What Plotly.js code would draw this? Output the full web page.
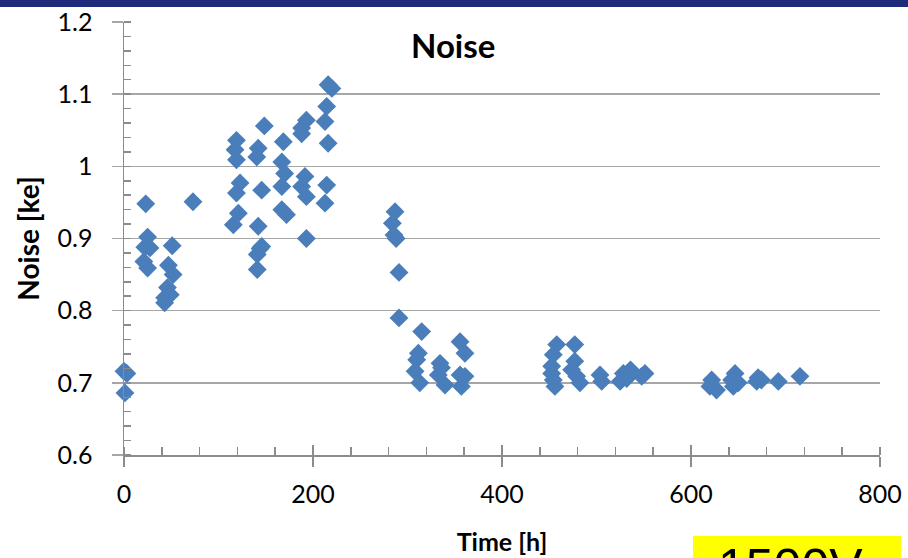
<!DOCTYPE html>
<html>
<head>
<meta charset="utf-8">
<script src="https://cdn.plot.ly/plotly-3.0.1.min.js"></script>
<style>
html,body{margin:0;padding:0;background:#fff;}
#chart{width:908px;height:558px;}
</style>
</head>
<body>
<div id="chart"></div>
<script>
// Time [h]
var timeH = [
  0, 3, 1,
  23, 73, 25, 22, 27.5, 51, 21, 25, 47, 52, 46, 49, 43, 43,
  216, 220, 214.5, 212.7, 216, 193, 188, 188, 148.5, 168.6, 119, 117.5, 119, 142, 140.5,
  167, 170, 167, 191.5, 188, 193, 214.5, 212.7, 122.8, 119, 145.7, 167, 172, 121, 115.7,
  142, 193, 145.7, 141, 141, 144,
  286.8, 284, 285.7, 288, 291, 291, 315, 311.5, 309.7, 308, 313, 334.4, 336, 332.6, 339.7,
  355.6, 360.8, 355.6, 360.8, 357,
  457.9, 477, 454.3, 477, 452.6, 452.6, 473.7, 479, 454.3, 456, 482.5, 503.7, 505.5,
  528.4, 525, 551.3, 547.8, 532, 536,
  621.9, 620, 627, 646.6, 643, 644.8, 650, 671, 669.5, 674.5, 692.4, 715.3
];
// Noise [ke]
var noiseKe = [
  0.716, 0.713, 0.686,
  0.948, 0.951, 0.902, 0.888, 0.887, 0.890, 0.868, 0.859, 0.863, 0.850, 0.832, 0.822, 0.818, 0.811,
  1.113, 1.108, 1.083, 1.062, 1.032, 1.064, 1.053, 1.045, 1.056, 1.034, 1.036, 1.023, 1.009, 1.025, 1.013,
  1.006, 0.990, 0.972, 0.986, 0.972, 0.958, 0.974, 0.949, 0.977, 0.963, 0.967, 0.940, 0.933, 0.935, 0.919,
  0.917, 0.900, 0.889, 0.878, 0.857, 0.886,
  0.937, 0.921, 0.905, 0.900, 0.853, 0.790, 0.771, 0.741, 0.732, 0.716, 0.700, 0.727, 0.721, 0.711, 0.697,
  0.757, 0.741, 0.711, 0.709, 0.695,
  0.753, 0.753, 0.739, 0.730, 0.723, 0.713, 0.718, 0.709, 0.704, 0.695, 0.700, 0.711, 0.702,
  0.713, 0.702, 0.713, 0.709, 0.706, 0.718,
  0.704, 0.695, 0.690, 0.713, 0.704, 0.695, 0.700, 0.707, 0.702, 0.704, 0.702, 0.709
];
var xTickVals = [0, 200, 400, 600, 800];
var xTickText = ['0', '200', '400', '600', '800'];
var yTickVals = [0.6, 0.7, 0.8, 0.9, 1.0, 1.1, 1.2];
var yTickText = ['0.6', '0.7', '0.8', '0.9', '1', '1.1', '1.2'];

var axisGray = '#8C8C8C';
var gridGray = '#A6A6A6';

var traces = [
  {
    type: 'scatter', mode: 'markers', x: timeH, y: noiseKe, cliponaxis: false,
    marker: {symbol: 'diamond', size: 14.5, color: '#4A7EBB', line: {width: 0}},
    showlegend: false, hoverinfo: 'x+y'
  },
  {
    type: 'scatter', mode: 'markers', x: [], y: [], xaxis: 'x2', yaxis: 'y',
    showlegend: false, hoverinfo: 'skip'
  }
];

var layout = {
  width: 908, height: 558,
  margin: {l: 124, r: 28, t: 22, b: 103},
  paper_bgcolor: '#ffffff', plot_bgcolor: '#ffffff',
  font: {family: 'Lato, Carlito, sans-serif', color: '#000000'},
  showlegend: false,
  xaxis: {
    range: [0, 800], tickvals: xTickVals, ticktext: xTickText,
    showgrid: false, zeroline: false,
    showline: true, linecolor: axisGray, linewidth: 1.5,
    ticks: 'outside', ticklen: 10, tickwidth: 1.5, tickcolor: axisGray,
    tickfont: {size: 25, family: 'Lato, Carlito, sans-serif', color: '#000'},
    ticklabelstandoff: 6,
    minor: {dtick: 40, tick0: 0, ticks: 'inside', ticklen: 8, tickwidth: 1.5, tickcolor: axisGray, showgrid: false},
    title: {text: '<b>Time [h]</b>', font: {size: 25, family: 'Lato, Carlito, sans-serif', color: '#000'}, standoff: 27},
    fixedrange: true
  },
  xaxis2: {
    overlaying: 'x', anchor: 'y', matches: 'x',
    range: [0, 800], tickvals: xTickVals, showticklabels: false,
    showgrid: false, zeroline: false, showline: false,
    ticks: 'inside', ticklen: 10, tickwidth: 1.5, tickcolor: axisGray
  },
  yaxis: {
    range: [0.6, 1.2], tickvals: yTickVals, ticktext: yTickText,
    showgrid: true, gridcolor: gridGray, gridwidth: 1.5, zeroline: false,
    showline: true, linecolor: axisGray, linewidth: 1.5,
    ticks: 'outside', ticklen: 11, tickwidth: 1.5, tickcolor: gridGray,
    tickfont: {size: 25, family: 'Lato, Carlito, sans-serif', color: '#000'},
    ticklabelstandoff: 14,
    minor: {dtick: 0.02, tick0: 0.6, ticks: 'inside', ticklen: 7, tickwidth: 1.5, tickcolor: axisGray, showgrid: false},
    title: {text: '<b>Noise [ke]</b>', font: {size: 28, family: 'Lato, Carlito, sans-serif', color: '#000'}, standoff: 10},
    fixedrange: true
  },
  annotations: [
    {
      xref: 'paper', yref: 'paper', x: 0.435, y: 0.947, xanchor: 'center', yanchor: 'middle',
      text: '<b>Noise</b>', showarrow: false,
      font: {size: 33, family: 'Lato, Carlito, sans-serif', color: '#000'}
    },
    {
      xref: 'paper', yref: 'paper', x: 0.881, y: -0.19, xanchor: 'center', yanchor: 'top',
      text: '1500V', showarrow: false,
      font: {size: 50, family: 'Liberation Sans, Arial, sans-serif', color: '#000'}
    }
  ],
  shapes: [
    {type: 'rect', xref: 'paper', yref: 'paper', x0: -0.17, x1: 1.05, y0: 1.0346, y1: 1.06,
     fillcolor: '#1F2A7A', line: {width: 0}, layer: 'above'},
    {type: 'rect', xref: 'paper', yref: 'paper', x0: 0.7526, x1: 1.0278, y0: -0.187, y1: -0.26,
     fillcolor: '#FFFF00', line: {width: 0}, layer: 'below'}
  ]
};

Plotly.newPlot('chart', traces, layout, {displayModeBar: false, staticPlot: true});
</script>
</body>
</html>
